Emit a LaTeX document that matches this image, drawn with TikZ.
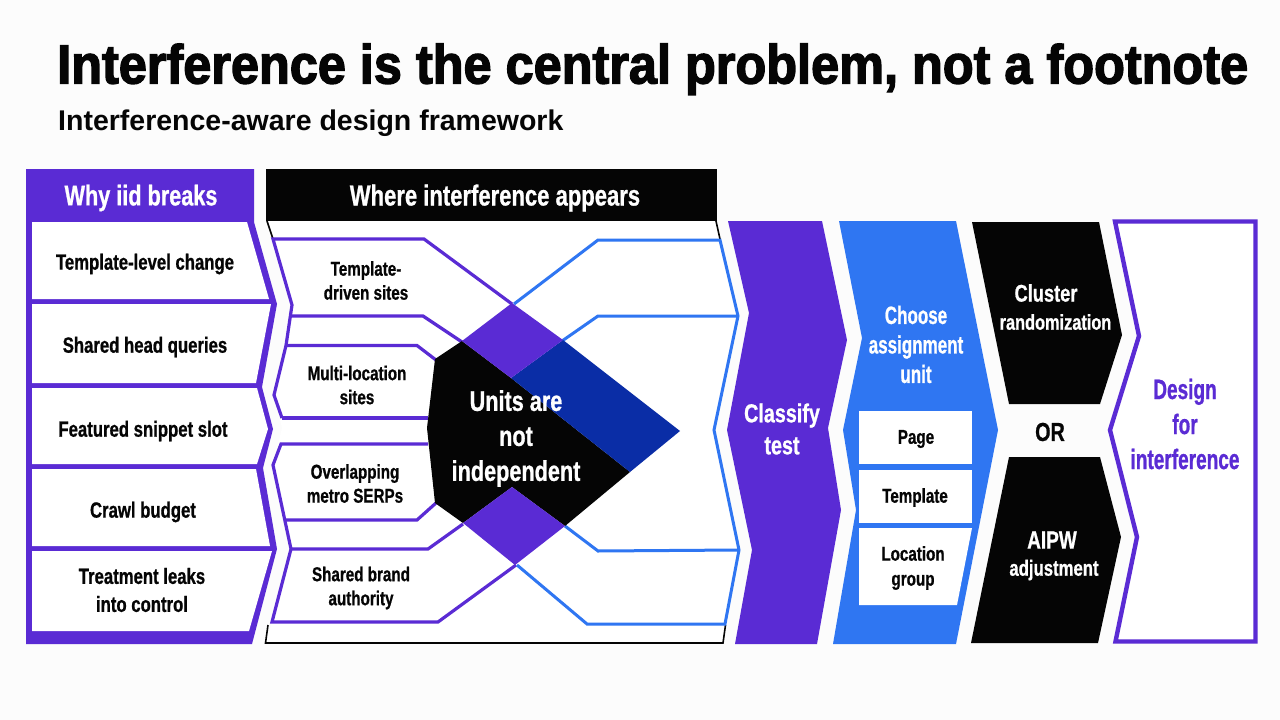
\documentclass[tikz,border=0pt]{standalone}
\usepackage{fontspec}
\newfontfamily\myc[FakeStretch=0.76,FakeBold=0.8]{Liberation Sans}
\newfontfamily\myn[FakeStretch=0.68,FakeBold=0.8]{Liberation Sans}
\newfontfamily\myt[FakeStretch=0.917,FakeBold=2.4]{Liberation Sans}
\newfontfamily\mys[FakeStretch=1.0]{Liberation Sans}
\definecolor{pur}{HTML}{5A2BD4}
\definecolor{blu}{HTML}{2F76F2}
\definecolor{dkb}{HTML}{0A2DA6}
\definecolor{blk}{HTML}{050505}
\definecolor{bgc}{HTML}{FCFCFC}
\tikzset{
 lbl/.style={inner sep=0pt,align=center,text=blk,font=\myc\bfseries\fontsize{22}{25}\selectfont},
 wlbl/.style={lbl,text=white},
 head/.style={wlbl,font=\myc\bfseries\fontsize{28.5}{30}\selectfont},
 big/.style={wlbl,font=\myc\bfseries\fontsize{26}{32}\selectfont},
 midl/.style={lbl,font=\myc\bfseries\fontsize{20}{24}\selectfont},
 row/.style={fill=white,draw=none},
 pline/.style={draw=pur,line width=3.2pt,line join=miter},
 bline/.style={draw=blu,line width=3pt,line join=miter},
 kline/.style={draw=blk,line width=1.6pt},
}
\begin{document}
\begin{tikzpicture}[x=1pt,y=-1pt]
\fill[bgc] (0,0) rectangle (1280,720);
\useasboundingbox (0,0) rectangle (1280,720);
% title
\node[inner sep=0pt,anchor=base west,text=blk,font=\myt\bfseries\fontsize{55}{60}\selectfont] (title) at (57,83.5) {Interference is the central problem, not a footnote};
\node[inner sep=0pt,anchor=base west,text=blk,font=\mys\bfseries\fontsize{28.5}{32}\selectfont] (sub) at (58,130) {Interference-aware design framework};
% left panel
\fill[pur] (26,169) -- (254,169) -- (254,222) -- (277,304) -- (262,387) -- (273,429) -- (263,468) -- (277,549) -- (252,644) -- (26,644) -- cycle;
\fill[row] (32,222) -- (247,222) -- (269,299) -- (32,299) -- cycle;
\fill[row] (32,304) -- (271,304) -- (256,383) -- (32,383) -- cycle;
\fill[row] (32,388) -- (257,388) -- (268,429) -- (257,464) -- (32,464) -- cycle;
\fill[row] (32,469) -- (256,469) -- (270,546) -- (32,546) -- cycle;
\fill[row] (32,551) -- (272,551) -- (249,631) -- (32,631) -- cycle;
\node[head] (h1) at (141,198) {Why iid breaks};
\node[lbl] (r1) at (145,264) {Template-level change};
\node[lbl] (r2) at (145,347) {Shared head queries};
\node[lbl] (r3) at (143,431) {Featured snippet slot};
\node[lbl] (r4) at (143,512) {Crawl budget};
\node[lbl] (r5) at (142,590) {Treatment leaks\\[3pt]into control};
% middle panel
\fill[white] (266,221) -- (717,221) -- (738,316) -- (714,430) -- (739,550) -- (723,643) -- (266,643) -- (272,622) -- (291,549) -- (273,465) -- (282,428) -- (274,395) -- (292,305) -- cycle;
\fill[blk] (266,169) rectangle (717,221);
\draw[kline] (267,221) -- (273,239);
\draw[kline] (716,221) -- (720,239);
\draw[kline] (268,625) -- (265.5,643) -- (723,643) -- (725.5,625);
% purple outlines
\draw[pline] (512,304) -- (424,239) -- (273,239) -- (292,305) -- (286,345.5) -- (274,395) -- (282,418);
\draw[pline] (290,316) -- (423,316) -- (462,342);
\draw[pline] (436,360) -- (417,345.5) -- (286,345.5);
\draw[pline] (282,418) -- (428,418);
\draw[pline] (428,444) -- (281,444) -- (273,465) -- (291,549) -- (272,622) -- (438,622) -- (516,565);
\draw[pline] (286,520) -- (417,520) -- (436,503);
\draw[pline] (291,549) -- (428,549) -- (463,524);
% blue outlines
\draw[bline] (514,304) -- (598,240) -- (720,240) -- (738,316) -- (714,430) -- (739,550) -- (725,624) -- (587,624) -- (517,565);
\draw[bline] (562,341) -- (598,316) -- (738,316);
\draw[bline] (565,526) -- (598,551) -- (739,550);
% centre
\fill[blk] (435,359) -- (462,341) -- (511,378) -- (630,472) -- (565,526) -- (512,487) -- (463,523) -- (435,503) -- (427,428) -- cycle;
\fill[dkb] (563,340) -- (680,431) -- (630,472) -- (511,378) -- cycle;
\fill[pur] (512,303) -- (563,340) -- (511,378) -- (462,341) -- cycle;
\fill[pur] (512,487) -- (565,526) -- (515,565) -- (463,523) -- cycle;
\node[head,font=\myc\bfseries\fontsize{29}{30}\selectfont] (h2) at (495,198) {Where interference appears};
\node[midl] (m1) at (366,280.5) {Template-\\driven sites};
\node[midl] (m2) at (357,385) {Multi-location\\sites};
\node[midl] (m3) at (355,483.5) {Overlapping\\metro SERPs};
\node[midl] (m4) at (361,588) {Shared brand\\authority};
\node[big,font=\myc\bfseries\fontsize{28.5}{35}\selectfont] (units) at (516,438.5) {Units are\\not\\independent};
% classify
\fill[pur] (728,221) -- (822,221) -- (847,340) -- (828,428) -- (841,510) -- (817,644) -- (735,644) -- (752,550) -- (727,430) -- (749,313) -- cycle;
\node[big] (cl) at (782,429) {Classify\\test};
% choose
\fill[blu] (839,221) -- (956,221) -- (998,430) -- (956,644) -- (833,644) -- (856,510) -- (843,430) -- (862,338) -- cycle;
\node[big,font=\myn\bfseries\fontsize{25}{29.5}\selectfont] (ch) at (916,344.5) {Choose\\assignment\\unit};
\fill[white] (859,411) rectangle (972,464);
\fill[white] (859,470) rectangle (972,523);
\fill[white] (859,528) -- (972,528) -- (957,605) -- (859,605) -- cycle;
\node[midl] (b1) at (916,439) {Page};
\node[midl] (b2) at (915,497.5) {Template};
\node[midl,font=\myc\bfseries\fontsize{20}{25}\selectfont] (b3) at (913,568) {Location\\group};
% black
\fill[blk] (972,222) -- (1099,222) -- (1122,335) -- (1100,404) -- (1009,404) -- cycle;
\fill[blk] (1009,457) -- (1100,457) -- (1121,537) -- (1098,643) -- (971,643) -- cycle;
\node[wlbl,font=\myc\bfseries\fontsize{24}{28}\selectfont] (c1) at (1046,293) {Cluster};
\node[wlbl,font=\myc\bfseries\fontsize{21.5}{25}\selectfont] (c2) at (1055.5,322) {randomization};
\node[lbl,font=\myc\bfseries\fontsize{26}{30}\selectfont] (or) at (1050,432) {OR};
\node[wlbl,font=\myc\bfseries\fontsize{25}{28}\selectfont] (a1) at (1052,540) {AIPW};
\node[wlbl] (a2) at (1054,570) {adjustment};
% design
\draw[pur,fill=white,line width=4.4pt,line join=miter] (1115,221.5) -- (1255.5,221.5) -- (1255.5,641.5) -- (1115.5,641.5) -- (1137,537) -- (1110,430) -- (1139,336) -- cycle;
\node[big,text=pur,font=\myn\bfseries\fontsize{28}{35}\selectfont] (de) at (1185,424) {Design\\for\\interference};
\end{tikzpicture}
\end{document}
